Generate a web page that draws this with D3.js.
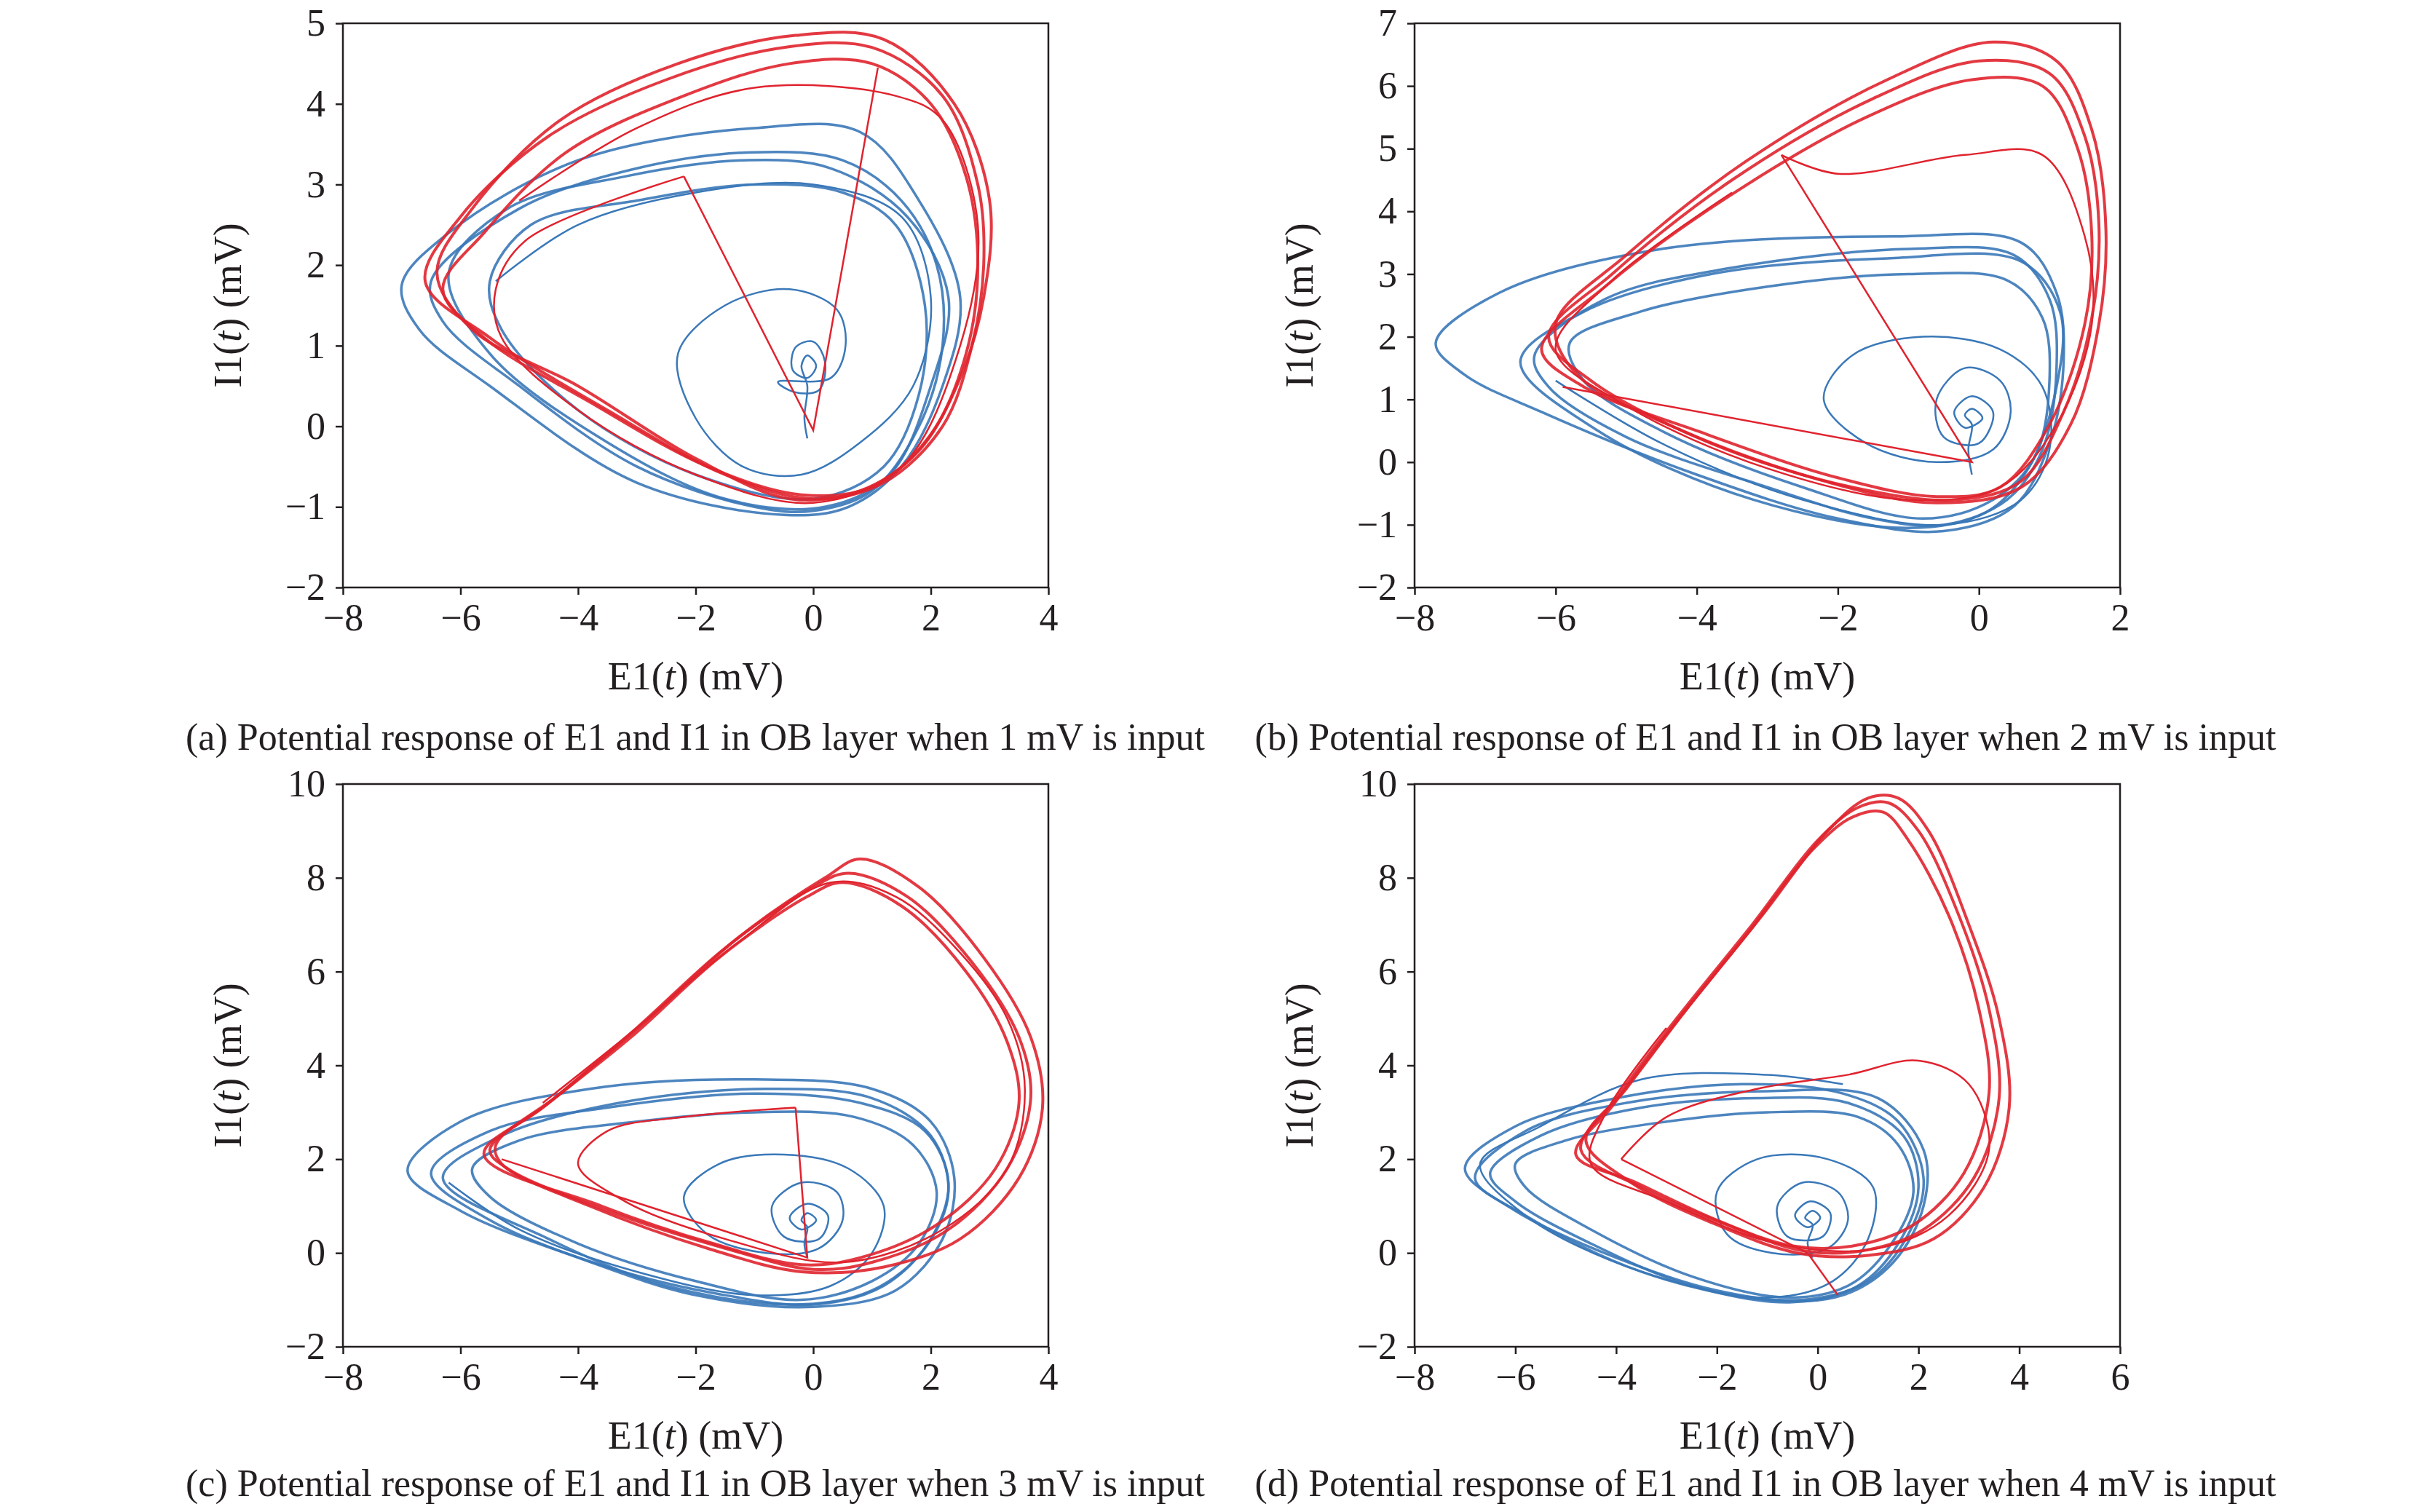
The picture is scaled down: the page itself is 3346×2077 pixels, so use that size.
<!DOCTYPE html>
<html>
<head>
<meta charset="utf-8">
<script src="https://cdn.jsdelivr.net/npm/d3@7"></script>
<style>
body { margin: 0; background: #fff; }
text { font-family: "Liberation Serif", "DejaVu Serif", serif; fill: #231f20; }
.axis path, .axis line { stroke: #231f20; stroke-width: 2.5; }
.axis text { font-size: 52px; }
.frame { fill: none; stroke: #231f20; stroke-width: 2.5; }
</style>
</head>
<body>
<script>
// ---- data (E1, I1 in mV) ----
var blueA = [
  [[-6.5,1.8],[-5,2.7],[-3,3.2],[-1,3.4],[0.5,3.3],[1.5,2.8],[2.1,2.0],[2.2,1.0],[1.8,0],[1,-0.8],[0,-1.05],[-1,-1.0],[-3,-0.5],[-5,0.5],[-6.3,1.3]],
  [[-7,1.75],[-6.2,2.4],[-4,3.3],[-1,3.7],[0.8,3.65],[1.8,2.8],[2.5,1.6],[2.2,0.5],[1.5,-0.5],[0.6,-1.0],[-0.5,-1.1],[-3,-0.7],[-5.5,0.5],[-6.7,1.2]],
  [[-5.5,1.8],[-4.8,2.5],[-3,2.8],[-1,3.0],[0.5,2.9],[1.4,2.5],[1.9,1.5],[1.8,0.4],[1.2,-0.5],[0,-0.9],[-2,-0.6],[-4,0.2],[-5.3,1.2]],
  [[-6.2,1.9],[-5.2,2.7],[-3.2,3.1],[-1.2,3.3],[0.3,3.2],[1.6,2.6],[2.3,1.6],[2.0,0.5],[1.3,-0.6],[0.2,-1.0],[-1.5,-0.9],[-3.5,-0.2],[-5.5,0.9]]
];
var blueAStart = [[-0.1,-0.15],[-0.15,0.1],[-0.1,0.5],[-0.2,0.75],[-0.1,0.88],[0.05,0.75],[-0.1,0.6],[-0.35,0.7],[-0.3,0.98],[0,1.05],[0.2,0.8],[0.1,0.45],[-0.3,0.42],[-0.6,0.55],[0.3,0.6],[0.55,1.0],[0.4,1.45],[-0.4,1.7],[-1.5,1.5],[-2.3,0.9],[-2.0,0.1],[-1.2,-0.5],[-0.2,-0.6],[0.8,-0.2],[1.7,0.5],[2.0,1.6],[1.5,2.6],[0,3.0],[-2,2.9],[-4,2.5],[-5.4,1.8]];
var redA = [
  [[-6.6,1.8],[-6,2.6],[-4.5,3.6],[-2.5,4.3],[-0.5,4.7],[1,4.7],[2.2,4.1],[2.8,3],[2.9,2],[2.7,1],[2.2,0],[1.2,-0.7],[0,-0.9],[-1.5,-0.6],[-3.5,0.2],[-5.5,1.1]],
  [[-6.4,1.9],[-5.8,2.7],[-4.3,3.8],[-2.3,4.5],[-0.3,4.85],[1.2,4.8],[2.4,4.0],[3.0,2.8],[2.9,1.6],[2.5,0.6],[1.8,-0.3],[0.8,-0.8],[-0.4,-0.9],[-2,-0.4],[-4,0.5],[-5.8,1.2]],
  [[-6.3,1.7],[-5.6,2.4],[-4.2,3.4],[-2.2,4.1],[-0.4,4.5],[1.0,4.5],[2.0,4.0],[2.6,3.1],[2.8,2.0],[2.6,0.9],[2.0,-0.1],[1.0,-0.75],[-0.2,-0.85],[-1.8,-0.5],[-3.8,0.3],[-5.6,1.1]]
];
var redAStart = [[1.1,4.45],[0,-0.05],[-2.2,3.1],[-4.9,2.3],[-5.4,1.7],[-5.3,1.1],[-4.0,0.2],[-2,-0.6],[0,-0.95],[1.5,-0.5],[2.5,1],[2.8,2.5],[2.2,3.8],[1.4,4.1],[-1,4.2],[-3,3.7],[-5,2.8]];

var blueB = [
  [[-6.3,1.7],[-5.3,2.6],[-3.5,3.1],[-1,3.4],[0.5,3.3],[1.0,2.6],[1.1,1.5],[0.9,0.2],[0.4,-0.6],[-0.5,-1.0],[-1.5,-0.9],[-3,-0.4],[-5,0.4],[-6.1,1.2]],
  [[-7.7,1.9],[-6.8,2.7],[-4.5,3.4],[-1.2,3.6],[0.6,3.5],[1.1,2.7],[1.2,1.6],[1.0,0.3],[0.5,-0.7],[-0.5,-1.1],[-2,-0.9],[-4,-0.2],[-6.2,0.8],[-7.3,1.4]],
  [[-5.8,1.9],[-4.8,2.4],[-3,2.8],[-1,3.0],[0.4,2.9],[0.9,2.3],[1.0,1.3],[0.8,0.1],[0.2,-0.6],[-0.8,-0.9],[-2.5,-0.4],[-4.5,0.5],[-5.6,1.3]],
  [[-6.5,1.6],[-5.6,2.4],[-3.8,3.0],[-1.3,3.25],[0.6,3.2],[1.15,2.4],[1.1,1.2],[0.7,-0.1],[0.1,-0.8],[-1,-1.05],[-3.2,-0.6],[-5.4,0.5]]
];
var blueBStart = [[-0.1,-0.2],[-0.15,0.2],[-0.1,0.6],[-0.2,0.75],[-0.1,0.85],[0.05,0.7],[-0.2,0.55],[-0.35,0.8],[-0.1,1.05],[0.2,0.8],[0,0.3],[-0.5,0.4],[-0.6,1.0],[-0.2,1.5],[0.3,1.3],[0.45,0.8],[0.2,0.2],[-0.6,0],[-1.6,0.3],[-2.2,1.0],[-1.8,1.7],[-0.8,2.0],[0.3,1.8],[0.9,1.2],[1.0,0.2],[0.6,-0.6],[-0.5,-1.0],[-2.5,-0.6],[-4.5,0.3],[-6,1.3]];
var redB = [
  [[-6.1,2.0],[-5.2,3.0],[-3.5,4.5],[-1.5,5.8],[0,6.4],[1.0,6.2],[1.5,5.2],[1.7,3.8],[1.6,2.3],[1.2,0.8],[0.6,-0.3],[-0.3,-0.6],[-1.8,-0.4],[-3.8,0.3],[-5.5,1.3]],
  [[-6.0,2.2],[-5.0,3.3],[-3.3,4.8],[-1.3,6.1],[0.2,6.7],[1.1,6.4],[1.6,5.3],[1.8,3.7],[1.7,2.2],[1.3,0.6],[0.6,-0.4],[-0.6,-0.65],[-2.2,-0.3],[-4.2,0.5],[-5.7,1.4]],
  [[-6.2,1.8],[-5.3,2.8],[-3.6,4.2],[-1.6,5.5],[-0.1,6.1],[0.9,6.0],[1.4,5.0],[1.6,3.6],[1.5,2.2],[1.0,0.6],[0.3,-0.4],[-0.6,-0.55],[-2.0,-0.25],[-4,0.5],[-5.6,1.2]]
];
var redBStart = [[-5.9,1.2],[-0.1,0],[-2.8,4.9],[-2.0,4.6],[-0.2,4.9],[0.9,4.9],[1.5,3.6],[1.6,2.2],[1.1,0.6],[0.3,-0.4],[-1,-0.6],[-3,-0.1],[-5,0.9],[-6,1.8],[-5.2,2.9],[-3.5,4.3]];

var blueC = [
  [[-6.5,1.7],[-5.5,2.6],[-3.5,3.1],[-1,3.4],[0.8,3.2],[1.9,2.6],[2.3,1.5],[2.0,0.3],[1.2,-0.7],[0,-1.1],[-1.5,-0.9],[-3.5,-0.3],[-5.5,0.7]],
  [[-6.9,1.75],[-6.0,2.8],[-3.8,3.5],[-1,3.7],[1.0,3.5],[2.0,2.8],[2.4,1.6],[2.2,0.3],[1.4,-0.8],[0,-1.15],[-2,-0.9],[-4,-0.1],[-6,0.9]],
  [[-5.8,1.8],[-5.0,2.4],[-3,2.8],[-1,3.0],[0.7,2.9],[1.7,2.3],[2.1,1.3],[1.8,0.2],[1.0,-0.6],[-0.2,-1.0],[-2,-0.6],[-4,0.2],[-5.5,1.2]],
  [[-6.3,1.6],[-5.3,2.5],[-3.3,3.2],[-0.8,3.5],[1.0,3.3],[2.0,2.5],[2.3,1.3],[1.9,0.1],[1.0,-0.8],[-0.3,-1.1],[-2.5,-0.7],[-4.5,0.3]]
];
var blueCStart = [[-0.1,-0.1],[-0.15,0.2],[-0.1,0.55],[-0.2,0.7],[-0.1,0.85],[0.05,0.7],[-0.2,0.5],[-0.4,0.75],[-0.1,1.05],[0.25,0.8],[0.1,0.3],[-0.5,0.35],[-0.7,1.0],[-0.2,1.5],[0.4,1.3],[0.5,0.7],[0.1,0.1],[-0.8,0],[-1.8,0.4],[-2.2,1.2],[-1.6,1.9],[-0.5,2.1],[0.6,1.8],[1.2,1.0],[1.0,0],[0.3,-0.7],[-1,-0.9],[-3,-0.4],[-5,0.5],[-6.2,1.5]];
var redC = [
  [[-5.5,2.2],[-4.5,3.2],[-3,4.8],[-1.5,6.5],[0,7.8],[0.6,8.1],[1.6,7.6],[2.7,6.2],[3.5,4.6],[3.7,3.3],[3.3,1.8],[2.3,0.5],[1.0,-0.2],[0,-0.35],[-1.5,0.1],[-3.5,0.9],[-5.2,1.8]],
  [[-5.4,2.3],[-4.3,3.4],[-2.8,5.0],[-1.3,6.7],[0.2,8.0],[0.8,8.4],[1.8,7.8],[2.9,6.3],[3.7,4.6],[3.9,3.1],[3.5,1.6],[2.5,0.3],[1.2,-0.3],[-0.2,-0.4],[-1.8,0.1],[-3.8,1.0],[-5.3,1.9]],
  [[-5.6,2.1],[-4.6,3.1],[-3.1,4.6],[-1.6,6.3],[-0.1,7.6],[0.5,7.9],[1.5,7.4],[2.6,6.0],[3.3,4.5],[3.5,3.2],[3.1,1.8],[2.1,0.6],[0.8,-0.1],[-0.2,-0.25],[-1.7,0.2],[-3.6,1.0]]
];
var redCStart = [[-5.3,2.0],[-0.1,-0.1],[-0.3,3.1],[-2.2,2.9],[-3.5,2.6],[-4.0,1.9],[-3.2,1.1],[-1.5,0.3],[0.5,-0.2],[2.2,0.5],[3.3,1.8],[3.6,3.5],[3.3,5.0],[2.5,6.4],[1.4,7.6],[0.3,7.9],[-1.3,6.6],[-3.0,4.8],[-4.6,3.2]];

var blueD = [
  [[-7.0,1.8],[-6.0,2.7],[-4,3.3],[-1.5,3.6],[0.5,3.4],[1.6,2.8],[2.1,1.6],[1.8,0.4],[1.0,-0.6],[-0.3,-1.0],[-2,-0.8],[-4,-0.1],[-6,0.9]],
  [[-6.5,1.7],[-5.5,2.5],[-3.5,3.1],[-1.2,3.3],[0.6,3.2],[1.7,2.5],[2.0,1.4],[1.6,0.2],[0.8,-0.7],[-0.5,-1.05],[-2.5,-0.7],[-4.5,0.2],[-6,1.1]],
  [[-6.0,1.9],[-5.0,2.4],[-3,2.8],[-1,3.0],[0.8,2.9],[1.6,2.3],[1.9,1.3],[1.4,0.1],[0.6,-0.7],[-0.6,-0.95],[-2.5,-0.5],[-4.5,0.5],[-5.8,1.4]],
  [[-6.8,1.6],[-5.8,2.6],[-3.8,3.2],[-1.0,3.45],[1.2,3.3],[2.1,2.2],[2.1,1.0],[1.5,-0.2],[0.5,-0.9],[-1,-1.0],[-3.5,-0.4],[-5.8,0.8]]
];
var blueDStart = [[-0.1,-0.1],[-0.2,0.2],[-0.1,0.6],[-0.25,0.75],[-0.1,0.9],[0.05,0.75],[-0.2,0.55],[-0.45,0.8],[-0.15,1.1],[0.25,0.85],[0.1,0.35],[-0.6,0.35],[-0.8,1.0],[-0.3,1.5],[0.4,1.3],[0.6,0.7],[0.2,0.1],[-0.9,0],[-1.8,0.4],[-2.0,1.3],[-1.2,2.0],[0.2,2.0],[1.1,1.4],[1.0,0.3],[0.3,-0.6],[-1,-0.95],[-3.5,-0.4],[-5.8,0.8],[-6.7,1.9],[-5.5,2.7],[-3.5,3.7],[-1.0,3.8],[0.5,3.6]];
var redD = [
  [[-4.7,2.2],[-4.0,3.3],[-2.8,5.0],[-1.3,7.0],[0,8.8],[0.8,9.5],[1.4,9.6],[2.0,9.0],[2.8,7.2],[3.4,5.2],[3.6,3.3],[3.1,1.6],[2.1,0.5],[0.9,0.05],[-0.3,0.05],[-1.8,0.6],[-3.5,1.4]],
  [[-4.6,2.4],[-3.8,3.5],[-2.6,5.2],[-1.1,7.2],[0.2,9.0],[1.0,9.7],[1.6,9.7],[2.2,9.0],[3.0,7.0],[3.6,5.0],[3.8,3.1],[3.3,1.4],[2.3,0.3],[1.0,-0.05],[-0.4,0],[-2.0,0.6],[-3.7,1.5]],
  [[-4.8,2.1],[-4.1,3.1],[-2.9,4.8],[-1.4,6.8],[-0.1,8.6],[0.7,9.3],[1.3,9.4],[1.8,8.8],[2.6,7.2],[3.2,5.2],[3.4,3.4],[2.9,1.7],[1.9,0.6],[0.7,0.15],[-0.5,0.15],[-2,0.7],[-3.6,1.5]]
];
var redDStart = [[0.4,-0.9],[-0.2,0.0],[-3.9,2.0],[-3.0,2.9],[-1.2,3.5],[0.6,3.8],[2.0,4.1],[3.0,3.6],[3.4,2.2],[2.6,0.8],[1.2,0.1],[-0.8,0.2],[-3,1.1],[-4.5,1.9],[-4.2,3.0],[-3.0,4.8]];

var panels = [
  {x: [-8, 4], y: [-2, 5], yStep: 1, blue: blueA, blueStart: blueAStart, red: redA, redStart: redAStart,
   cap: "(a) Potential response of E1 and I1 in OB layer when 1 mV is input"},
  {x: [-8, 2], y: [-2, 7], yStep: 1, blue: blueB, blueStart: blueBStart, red: redB, redStart: redBStart,
   cap: "(b) Potential response of E1 and I1 in OB layer when 2 mV is input"},
  {x: [-8, 4], y: [-2, 10], yStep: 2, blue: blueC, blueStart: blueCStart, red: redC, redStart: redCStart,
   cap: "(c) Potential response of E1 and I1 in OB layer when 3 mV is input"},
  {x: [-8, 6], y: [-2, 10], yStep: 2, blue: blueD, blueStart: blueDStart, red: redD, redStart: redDStart,
   cap: "(d) Potential response of E1 and I1 in OB layer when 4 mV is input"}
];

var W = 3346, H = 2077;
var boxes = [
  {l: 471, t: 32, r: 1440, b: 807, cy: 1030, cx: 955},
  {l: 1943, t: 32, r: 2912, b: 807, cy: 1030, cx: 2425},
  {l: 471, t: 1077, r: 1440, b: 1850, cy: 2055, cx: 955},
  {l: 1943, t: 1077, r: 2912, b: 1850, cy: 2055, cx: 2425}
];

var svg = d3.select("body").append("svg").attr("width", W).attr("height", H);
var fmt = function(d) { return d < 0 ? "\u2212" + Math.abs(d) : "" + d; };

panels.forEach(function(p, i) {
  var bx = boxes[i];
  var w = bx.r - bx.l, h = bx.b - bx.t;
  var g = svg.append("g").attr("transform", "translate(" + bx.l + "," + bx.t + ")");
  var x = d3.scaleLinear().domain(p.x).range([0, w]);
  var y = d3.scaleLinear().domain(p.y).range([h, 0]);
  var line = d3.line().x(function(d) { return x(d[0]); }).y(function(d) { return y(d[1]); })
    .curve(d3.curveCatmullRom.alpha(0.5));
  var closed = d3.line().x(function(d) { return x(d[0]); }).y(function(d) { return y(d[1]); })
    .curve(d3.curveCatmullRomClosed.alpha(0.5));

  var clip = g.append("g");
  clip.append("path").attr("d", line(p.blueStart)).attr("fill", "none").attr("stroke", "#3a78b8").attr("stroke-width", 2.5);
  p.blue.forEach(function(loop) {
    clip.append("path").attr("d", closed(loop)).attr("fill", "none").attr("stroke", "#3a78b8").attr("stroke-width", 3.5).attr("opacity", 0.9);
  });
  clip.append("path").attr("d", d3.line().x(function(d) { return x(d[0]); }).y(function(d) { return y(d[1]); })(p.redStart.slice(0, 3)))
    .attr("fill", "none").attr("stroke", "#e0232e").attr("stroke-width", 2.5);
  clip.append("path").attr("d", line(p.redStart.slice(2))).attr("fill", "none").attr("stroke", "#e0232e").attr("stroke-width", 2.5);
  p.red.forEach(function(loop) {
    clip.append("path").attr("d", closed(loop)).attr("fill", "none").attr("stroke", "#e0232e").attr("stroke-width", 4).attr("opacity", 0.9);
  });

  g.append("rect").attr("class", "frame").attr("width", w).attr("height", h);

  var xt = d3.range(p.x[0], p.x[1] + 0.01, 2);
  var yt = d3.range(p.y[0], p.y[1] + 0.01, p.yStep);
  g.append("g").attr("class", "axis").attr("transform", "translate(0," + h + ")")
    .call(d3.axisBottom(x).tickValues(xt).tickFormat(fmt).tickSize(10).tickSizeOuter(0).tickPadding(12))
    .call(function(s) { s.select(".domain").remove(); s.selectAll("text").attr("font-family", "Liberation Serif"); });
  g.append("g").attr("class", "axis")
    .call(d3.axisLeft(y).tickValues(yt).tickFormat(fmt).tickSize(10).tickSizeOuter(0).tickPadding(14))
    .call(function(s) { s.select(".domain").remove(); s.selectAll("text").attr("font-family", "Liberation Serif"); });

  var xl = g.append("text").attr("x", w / 2).attr("y", h + 140).attr("text-anchor", "middle").attr("font-size", 54);
  xl.append("tspan").text("E1(");
  xl.append("tspan").attr("font-style", "italic").text("t");
  xl.append("tspan").text(") (mV)");

  var yl = g.append("text").attr("transform", "translate(" + (-140) + "," + (h / 2) + ") rotate(-90)")
    .attr("text-anchor", "middle").attr("font-size", 54);
  yl.append("tspan").text("I1(");
  yl.append("tspan").attr("font-style", "italic").text("t");
  yl.append("tspan").text(") (mV)");

  svg.append("text").attr("x", bx.cx).attr("y", bx.cy).attr("text-anchor", "middle")
    .attr("font-size", 52).text(p.cap);
});
</script>
</body>
</html>
